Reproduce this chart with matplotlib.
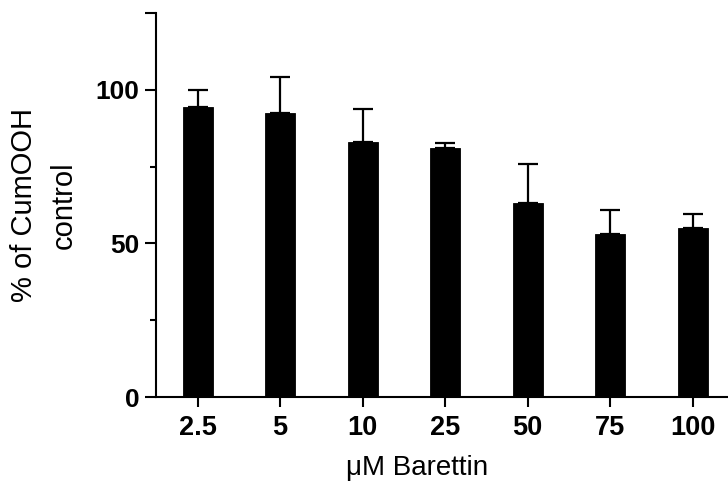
import matplotlib
matplotlib.use("Agg")
import matplotlib.pyplot as plt
import numpy as np

categories = ["2.5", "5", "10", "25", "50", "75", "100"]
means = [94.2, 92.5, 83.0, 81.0, 63.0, 53.1, 54.9]
errors = [5.8, 11.7, 10.7, 1.6, 12.7, 7.9, 4.8]
ytick_vals = [0, 50, 100, 125]
ytick_labels = ["0", "50", "100", ""]
yminor_vals = [25, 75]

plt.rcParams['font.family'] = ['Liberation Sans', 'DejaVu Sans']

fig = plt.figure(figsize=(7.28, 4.90), dpi=100)
ax = fig.add_axes([156/728, 1 - 397.3/490, (728 - 156)/728, (397.3 - 12.7)/490])

x = np.arange(len(categories))
ax.bar(x, means, width=0.364, color="black", edgecolor="black", linewidth=0.6, zorder=2)
ax.errorbar(x, means, yerr=[np.zeros(len(errors)), errors], fmt="none",
            ecolor="black", elinewidth=1.6, capsize=7, capthick=1.6, zorder=3)

ax.set_xlim(-0.505, 6.43)
ax.set_ylim(0, 125)
ax.set_xticks(x)
ax.set_xticklabels(categories, fontsize=19.5, fontweight="bold")
ax.set_yticks(ytick_vals)
ax.set_yticklabels(ytick_labels, fontsize=19, fontweight="bold")
ax.set_yticks(yminor_vals, minor=True)

for s in ["top", "right"]:
    ax.spines[s].set_visible(False)
for s in ["left", "bottom"]:
    ax.spines[s].set_linewidth(1.5)

ax.tick_params(axis="y", which="major", length=8, width=1.5, pad=4)
ax.tick_params(axis="y", which="minor", length=4.5, width=1.5)
ax.tick_params(axis="x", which="major", length=7.5, width=1.5, pad=5)

ax.set_xlabel("μM Barettin", fontsize=20)
ax.xaxis.set_label_coords(0.456, -0.15)
ax.set_ylabel("% of CumOOH\ncontrol", fontsize=21, linespacing=1.55)
ax.yaxis.set_label_coords(-0.136, 0.5)

fig.savefig("out.png", dpi=100)
